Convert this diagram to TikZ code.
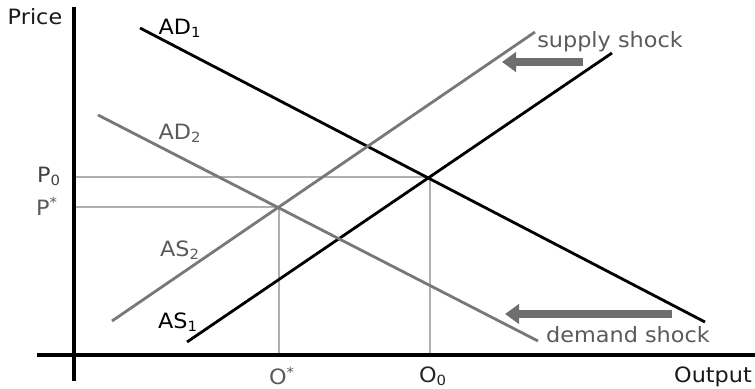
\documentclass[tikz,border=0pt]{standalone}
\usepackage{fontspec}
\setmainfont{DejaVu Sans}
\usetikzlibrary{arrows.meta}

\begin{document}
\begin{tikzpicture}[x=0.02cm, y=-0.02cm,
  lbl/.style={font=\fontsize{12}{14}\selectfont, inner sep=0pt, xscale=1.06, transform shape},
  shockarrow/.style={draw=shockgray, line width=5pt, -{Triangle[length=8pt, width=11pt]}}]

% Colours
\definecolor{curvegray}{RGB}{120,120,120}
\definecolor{guidegray}{RGB}{175,175,175}
\definecolor{shockgray}{RGB}{110,110,110}
\definecolor{textgray}{RGB}{90,90,90}

\useasboundingbox (0,0) rectangle (755,389);

% Guide lines to the two equilibria
\coordinate (E0) at (430,177);
\coordinate (Es) at (279,207);
\coordinate (P0) at (74,177);
\coordinate (Ps) at (74,207);
\coordinate (O0) at (430,355);
\coordinate (Os) at (279,355);
\draw[guidegray, line width=0.8pt] (P0) -- (E0) -- (O0);
\draw[guidegray, line width=0.8pt] (Ps) -- (Es) -- (Os);

% Axes
\coordinate (ytop) at (74,7);
\coordinate (ybot) at (74,381);
\coordinate (xleft) at (37,355);
\coordinate (xright) at (755,355);
\draw[black, line width=2.2pt] (ybot) -- (ytop);
\draw[black, line width=1.8pt] (xleft) -- (xright);

% Curves
\coordinate (ad1a) at (140,28);
\coordinate (ad1b) at (705,322);
\coordinate (as1a) at (187,342);
\coordinate (as1b) at (612,53);
\coordinate (ad2a) at (98,115);
\coordinate (ad2b) at (538,341);
\coordinate (as2a) at (112,321);
\coordinate (as2b) at (535,32);
\draw[black, line width=1.6pt] (ad1a) -- (ad1b);
\draw[black, line width=1.6pt] (as1a) -- (as1b);
\draw[curvegray, line width=1.6pt] (ad2a) -- (ad2b);
\draw[curvegray, line width=1.6pt] (as2a) -- (as2b);

% Shock arrows
\coordinate (sshockA) at (583,62);
\coordinate (sshockB) at (502,62);
\coordinate (dshockA) at (672,314);
\coordinate (dshockB) at (505,314);
\draw[shockarrow] (sshockA) -- (sshockB);
\draw[shockarrow] (dshockA) -- (dshockB);

% Labels
\node[lbl, black!90] (price) at (35,17) {Price};
\node[lbl, black!90] (output) at (713,377) {Output};
\node[lbl] (ad1) at (180,28) {AD\textsubscript{1}};
\node[lbl, textgray] (ad2) at (180,133) {AD\textsubscript{2}};
\node[lbl] (as1) at (178,322) {AS\textsubscript{1}};
\node[lbl, textgray] (as2) at (180,250) {AS\textsubscript{2}};
\node[lbl, black!75] (p0) at (49,176) {P\textsubscript{0}};
\node[lbl, textgray] (ps) at (47,206) {P\textsuperscript{*}};
\node[lbl, black!85] (o0) at (433,376) {O\textsubscript{0}};
\node[lbl, textgray] (os) at (282,376) {O\textsuperscript{*}};
\node[lbl, textgray] (supply) at (610,42) {supply shock};
\node[lbl, textgray] (demand) at (628,335) {demand shock};

\end{tikzpicture}
\end{document}
